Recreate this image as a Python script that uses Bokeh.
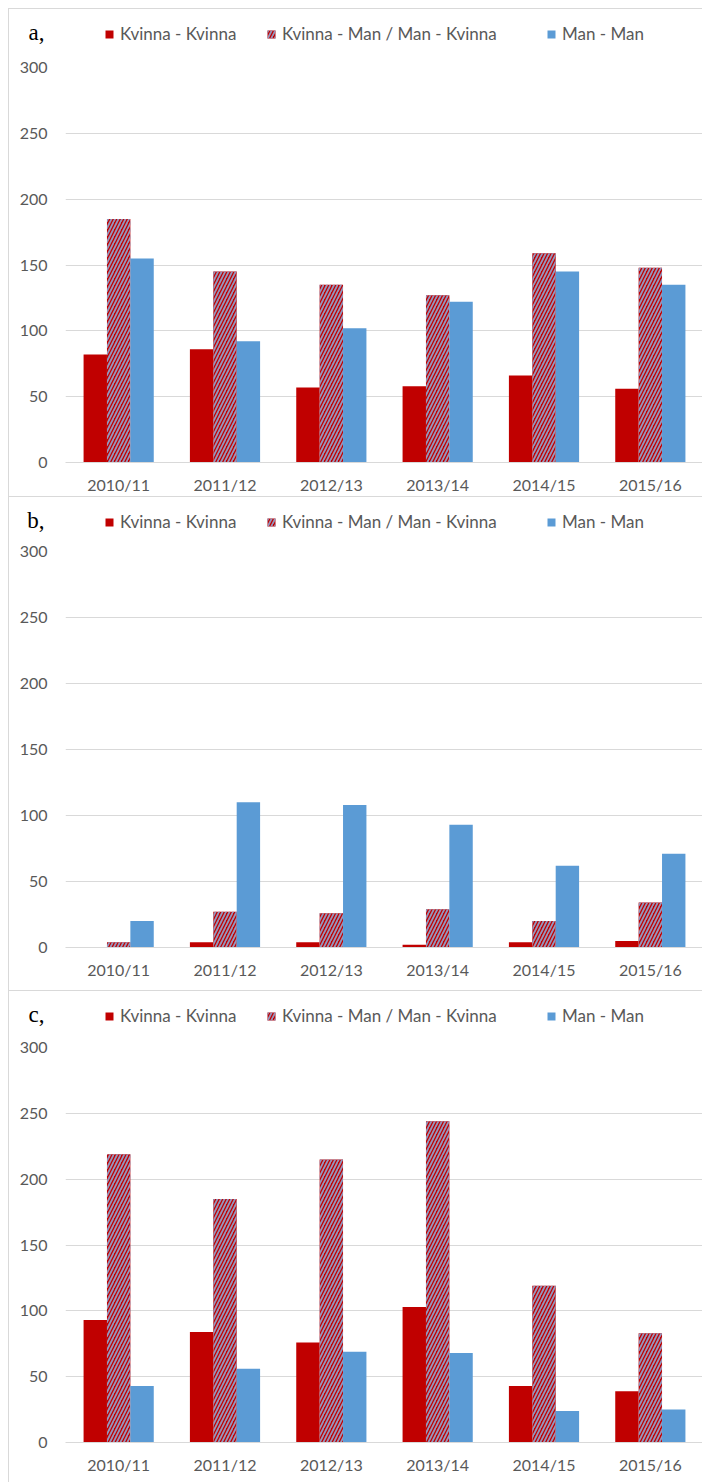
from bokeh.plotting import figure
from bokeh.models import (Range1d, FactorRange, FixedTicker, Legend, LegendItem,
                          ColumnDataSource, Spacer, LinearAxis)
from bokeh.transform import dodge
from bokeh.layouts import column, row
from bokeh.embed import file_html
from bokeh.resources import INLINE

seasons = ["2010/11", "2011/12", "2012/13", "2013/14", "2014/15", "2015/16"]
series_names = ["Kvinna - Kvinna", "Kvinna - Man / Man - Kvinna", "Man - Man"]
y_ticks = [0, 50, 100, 150, 200, 250, 300]
panel_letters = ["a,", "b,", "c,"]

# panel a
a_kk = [82, 86, 57, 58, 66, 56]
a_km = [185, 145, 135, 127, 159, 148]
a_mm = [155, 92, 102, 122, 145, 135]
# panel b
b_kk = [0, 4, 4, 2, 4, 5]
b_km = [4, 27, 26, 29, 20, 34]
b_mm = [20, 110, 108, 93, 62, 71]
# panel c
c_kk = [93, 84, 76, 103, 43, 39]
c_km = [219, 185, 215, 244, 119, 83]
c_mm = [43, 56, 69, 68, 24, 25]

RED = "#C00000"
BLUE = "#5B9BD5"
HATCH = "#9497BE"
GRID = "#D9D9D9"
TXT = "#595959"
FONT = "Lato"
W = 694
HEADER_H = 46
BORDER = "1px solid #D9D9D9"
LEGEND_X = [39, 201, 481]

bar_styles = [dict(fill_color=RED, line_color=None),
              dict(fill_color=RED, line_color=None, hatch_pattern="/", hatch_color=HATCH,
                   hatch_scale=7, hatch_weight=1.8),
              dict(fill_color=BLUE, line_color=None)]


def make_header(letter, series):
    h = figure(width=W, height=HEADER_H, x_range=Range1d(0, W), y_range=Range1d(0, 300),
               output_backend="svg", toolbar_location=None,
               min_border_left=56, min_border_right=0, min_border_top=0, min_border_bottom=0,
               x_axis_location=None, y_axis_location=None, outline_line_color=None,
               styles={"border-top": BORDER, "border-left": BORDER, "box-sizing": "border-box"})
    h.grid.visible = False
    ax = LinearAxis(ticker=FixedTicker(ticks=[]), axis_label=letter,
                    axis_label_orientation="horizontal", axis_label_standoff=21,
                    axis_label_text_font="Liberation Serif", axis_label_text_font_size="23px",
                    axis_label_text_font_style="normal", axis_label_text_color="#000000",
                    axis_line_color=None, major_tick_line_color=None,
                    minor_tick_line_color=None, major_tick_out=0, minor_tick_out=0)
    h.add_layout(ax, "left")
    idx = list(range(len(seasons)))
    for name, vals, st, lx in zip(series_names, series, bar_styles, LEGEND_X):
        r = h.vbar(x=idx, top=vals, width=0.5, visible=False, **st)
        lg = Legend(items=[LegendItem(label=name, renderers=[r])],
                    orientation="horizontal", location=(lx, 11),
                    padding=0, margin=0, spacing=0, label_standoff=6,
                    glyph_width=10, glyph_height=10, border_line_color=None,
                    background_fill_alpha=0, inactive_fill_alpha=0,
                    label_text_font=FONT, label_text_font_size="17px",
                    label_text_color=TXT, label_height=20)
        h.add_layout(lg)
    return h


def make_main(kk, km, mm, height, top, bottom):
    src = ColumnDataSource(dict(season=seasons, kk=kk, km=km, mm=mm))
    p = figure(width=W, height=height, x_range=FactorRange(*seasons),
               y_range=Range1d(0, 300), output_backend="svg", toolbar_location=None,
               min_border_left=56, min_border_right=0, min_border_top=top,
               min_border_bottom=bottom, outline_line_color=None,
               styles={"border-left": BORDER, "box-sizing": "border-box"})
    w = 0.22
    for col, off, st in zip(["kk", "km", "mm"], [-w, 0, w], bar_styles):
        p.vbar(x=dodge("season", off, range=p.x_range), top=col, width=w, source=src, **st)

    p.yaxis.ticker = FixedTicker(ticks=y_ticks)
    p.yaxis.axis_line_color = None
    p.yaxis.major_tick_line_color = None
    p.yaxis.minor_tick_line_color = None
    p.yaxis.major_tick_out = 0
    p.yaxis.major_label_standoff = 18
    p.yaxis.major_label_text_font = FONT
    p.yaxis.major_label_text_font_size = "16px"
    p.yaxis.major_label_text_color = TXT

    p.xaxis.axis_line_color = GRID
    p.xaxis.major_tick_line_color = None
    p.xaxis.minor_tick_line_color = None
    p.xaxis.major_tick_out = 0
    p.xaxis.major_tick_in = 0
    p.xaxis.major_label_standoff = 12
    p.xaxis.major_label_text_font = FONT
    p.xaxis.major_label_text_font_size = "16px"
    p.xaxis.major_label_text_color = TXT

    p.xgrid.grid_line_color = None
    p.ygrid.grid_line_color = GRID
    p.ygrid.ticker = FixedTicker(ticks=y_ticks)
    return p


ha = make_header(panel_letters[0], [a_kk, a_km, a_mm])
pa = make_main(a_kk, a_km, a_mm, 488 - HEADER_H, 13, 33)
hb = make_header(panel_letters[1], [b_kk, b_km, b_mm])
pb = make_main(b_kk, b_km, b_mm, 494 - HEADER_H, 9, 43)
hc = make_header(panel_letters[2], [c_kk, c_km, c_mm])
pc = make_main(c_kk, c_km, c_mm, 492 - HEADER_H, 11, 40)

layout = column(Spacer(width=8, height=8),
                row(Spacer(width=8, height=10),
                    column(ha, pa, hb, pb, hc, pc, spacing=0), spacing=0),
                spacing=0)
open("out.html", "w").write(file_html(layout, INLINE))
